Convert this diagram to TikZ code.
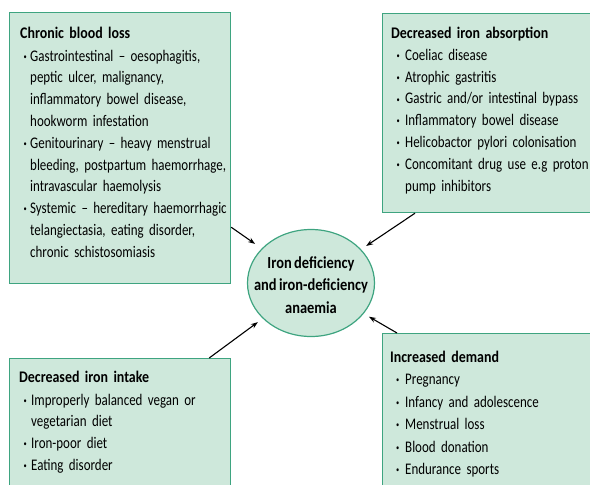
\documentclass[tikz,border=0pt]{standalone}
\usepackage{xcolor}
\usepackage{fontspec}
\setmainfont[FakeStretch=0.80, WordSpace=0.72, BoldFeatures={FakeStretch=0.86}]{Carlito}
\usetikzlibrary{shapes,arrows.meta,positioning,calc}

\definecolor{causefill}{RGB}{206,232,219}
\definecolor{causeline}{RGB}{62,164,128}

\newcommand{\causefont}{\fontsize{16.2}{21.8}\selectfont\hyphenpenalty=10000\exhyphenpenalty=10000}
\newcommand{\bul}[1][10pt]{\par\hangindent=#1\hangafter=1\makebox[#1][c]{\raisebox{1.8pt}{\fontsize{8}{8}\selectfont\textbullet}}\ignorespaces}

\begin{document}
\begin{tikzpicture}[x=1pt, y=-1pt,
    causebox/.style={draw=causeline, fill=causefill, line width=1.2pt, anchor=north west, inner sep=0pt},
    causetext/.style={anchor=base west, align=left, text width=260pt, inner sep=0pt, font=\causefont},
    hub/.style={ellipse, draw=causeline, fill=causefill, line width=1.2pt,
      minimum width=127pt, minimum height=107pt, inner sep=0pt},
    hubtext/.style={align=center, font=\fontsize{16.8}{22.5}\selectfont\bfseries, inner sep=0pt},
    link/.style={-{Stealth[length=7pt, width=5pt]}, line width=1.1pt, shorten >=6pt}]

    \useasboundingbox (0,0) rectangle (590,485);
    \clip (0,0) rectangle (590,485);

    % Chronic blood loss
    \node[causebox, minimum width=221pt, minimum height=271pt] (loss) at (9,12) {};
    \node[causetext] (losstext) at ([xshift=11pt, yshift=-26pt]loss.north west)
      {\textbf{Chronic blood loss}\par\vspace{1.3pt}
       \bul Gastrointestinal -- oesophagitis,\newline peptic ulcer, malignancy,\newline inflammatory bowel disease,\newline hookworm infestation
       \bul Genitourinary -- heavy menstrual\newline bleeding, postpartum haemorrhage,\newline intravascular haemolysis
       \bul Systemic -- hereditary haemorrhagic\newline telangiectasia, eating disorder,\newline chronic schistosomiasis\par};

    % Decreased iron absorption
    \node[causebox, minimum width=240pt, minimum height=199pt] (absorb) at (382,13) {};
    \node[causetext] (absorbtext) at ([xshift=9pt, yshift=-25pt]absorb.north west)
      {\textbf{Decreased iron absorption}\par\vspace{0.5pt}
       \bul[14pt] Coeliac disease
       \bul[14pt] Atrophic gastritis
       \bul[14pt] Gastric and/or intestinal bypass
       \bul[14pt] Inflammatory bowel disease
       \bul[14pt] Helicobactor pylori colonisation
       \bul[14pt] Concomitant drug use e.g proton\newline pump inhibitors\par};

    % Decreased iron intake
    \node[causebox, minimum width=221pt, minimum height=150pt] (intake) at (9,358) {};
    \node[causetext] (intaketext) at ([xshift=10pt, yshift=-24pt]intake.north west)
      {\textbf{Decreased iron intake}\par\vspace{1.3pt}
       \bul[12pt] Improperly balanced vegan or\newline vegetarian diet
       \bul[12pt] Iron-poor diet
       \bul[12pt] Eating disorder\par};

    % Increased demand
    \node[causebox, minimum width=240pt, minimum height=170pt] (demand) at (382,333) {};
    \node[causetext] (demandtext) at ([xshift=8pt, yshift=-29pt]demand.north west)
      {\fontsize{16.2}{22.5}\selectfont\textbf{Increased demand}\par
       \bul[15pt] Pregnancy
       \bul[15pt] Infancy and adolescence
       \bul[15pt] Menstrual loss
       \bul[15pt] Blood donation
       \bul[15pt] Endurance sports\par};

    % Centre
    \node[hub] (ida) at (311,283) {};
    \node[hubtext] (idatext) at ([yshift=-2pt]ida.center) {Iron deficiency\\and iron-deficiency\\anaemia};

    % Arrows
    \draw[link, shorten >=8pt] ([yshift=57pt]loss.south east) -- (ida);
    \draw[link] ([xshift=33pt]absorb.south west) -- (ida);
    \draw[link] ([xshift=-22pt]intake.north east) -- (ida);
    \draw[link] ([xshift=15pt]demand.north west) -- (ida);

\end{tikzpicture}
\end{document}
